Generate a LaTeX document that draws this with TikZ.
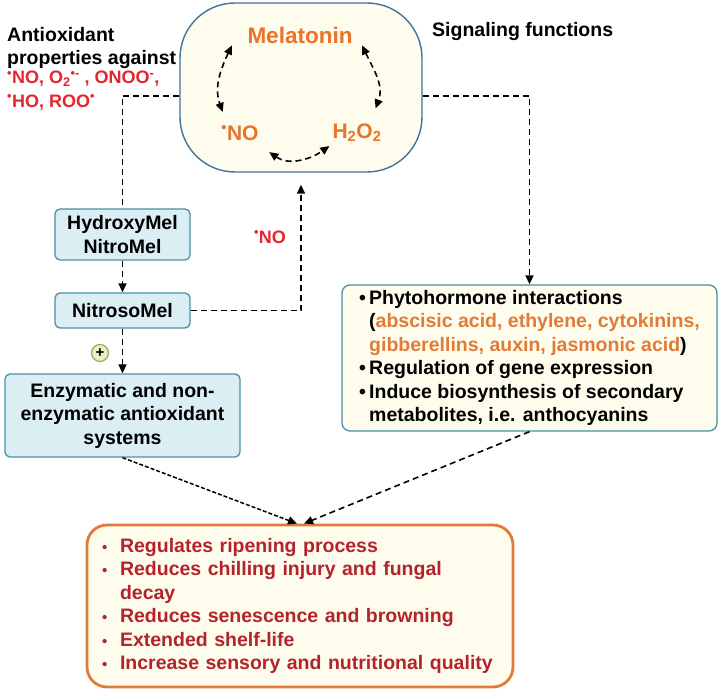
\documentclass[tikz,border=0pt]{standalone}
\usepackage{fontspec}
\setmainfont{Liberation Sans}
\usetikzlibrary{arrows.meta,positioning}

\definecolor{melblue}{HTML}{41719C}
\definecolor{cream}{HTML}{FEFCEC}
\definecolor{boxblue}{HTML}{DBEEF4}
\definecolor{boxteal}{HTML}{4A8FA3}
\definecolor{melorange}{HTML}{E8742A}
\definecolor{radred}{HTML}{E5252E}
\definecolor{resred}{HTML}{B4222E}
\definecolor{resorange}{HTML}{E07B39}
\definecolor{plusgreen}{HTML}{E9F0C4}
\definecolor{plusolive}{HTML}{9BAA5A}

\newcommand{\rad}{\textsuperscript{\textbullet}}
\newcommand{\bodyfont}{\fontsize{19.5}{23.5}\selectfont\bfseries}
\newcommand{\itm}{\makebox[10pt][l]{\textbullet}}
\newcommand{\resitm}{\makebox[18pt][l]{\fontsize{15}{15}\selectfont\textbullet}}

\begin{document}
\begin{tikzpicture}[x=1pt,y=1pt,
    >={Triangle[length=9pt,width=8pt]},
    dline/.style={line width=1.6pt,dash pattern=on 6pt off 4pt},
    fineline/.style={line width=1.5pt,dash pattern=on 4pt off 2pt},
    bluebox/.style={draw=boxteal,fill=boxblue,line width=1.3pt,rounded corners=5pt,align=center,font=\bodyfont},
    coretxt/.style={text=melorange,inner sep=0pt}]
    \useasboundingbox (0,0) rectangle (720,692);

    \node[draw=melblue,fill=cream,line width=1.4pt,rounded corners=55pt,minimum width=242pt,minimum height=169pt] (core) at (301,604.5) {};
    \node[coretxt,font=\fontsize{22.5}{27}\selectfont\bfseries] (mel) at (300,657) {Melatonin};
    \node[coretxt,font=\fontsize{21}{25}\selectfont\bfseries] (no) at (240,559) {\rad NO};
    \node[coretxt,font=\fontsize{21}{25}\selectfont\bfseries] (hoo) at (357,559) {H\textsubscript{2}O\textsubscript{2}};

    \draw[dline,<->] ([shift={(-15.5,-2)}]mel.south west) to[out=-115,in=110] ([shift={(1.5,13.5)}]no.north west);
    \draw[dline,<->] ([shift={(9.5,-2)}]mel.south east) to[out=-65,in=70] ([shift={(-6,15.5)}]hoo.north east);
    \draw[dline,<->] ([shift={(10.5,-11.5)}]no.south east) to[out=-35,in=-145] ([shift={(-3,-4)}]hoo.south west);

    \node[font=\bodyfont,align=left,inner sep=0pt,anchor=north west] (antiox) at (7,665) {Antioxidant\\properties against};
    \node[font=\fontsize{18}{23.5}\selectfont\bfseries,text=radred,align=left,inner sep=0pt,anchor=north west] (radicals) at (7,621)
        {\rad NO, O\textsubscript{2}\textsuperscript{\textbullet-} , ONOO\textsuperscript{-},\\\rad HO, ROO\rad};
    \node[font=\bodyfont,anchor=base west,inner sep=0pt] (signal) at (432,655) {Signaling functions};

    \node[bluebox,minimum width=135pt,minimum height=51pt] (hyd) at (122.5,457.5) {HydroxyMel\\NitroMel};
    \node[bluebox,minimum width=135pt,minimum height=35pt] (nit) at (122.5,381.5) {NitrosoMel};
    \node[bluebox,minimum width=235pt,minimum height=83pt] (enz) at (122.5,276.5) {Enzymatic and non-\\enzymatic antioxidant\\systems};
    \node[circle,draw=plusolive,fill=plusgreen,line width=1.2pt,inner sep=0pt,minimum size=17pt,font=\fontsize{15}{15}\selectfont\bfseries] (plus) at (100,339) {+};
    \node[font=\fontsize{18}{22}\selectfont\bfseries,text=radred] (nolabel) at (270,455) {\rad NO};

    \node[draw=boxteal,fill=cream,line width=1.3pt,rounded corners=8pt,minimum width=375pt,minimum height=146pt,align=left,font=\bodyfont] (phyto) at (529.5,334)
        {\itm Phytohormone interactions\\
         \hspace*{10pt}(\textcolor{resorange}{abscisic acid, ethylene, cytokinins,}\\
         \hspace*{10pt}\textcolor{resorange}{gibberellins, auxin, jasmonic acid})\\
         \itm Regulation of gene expression\\
         \itm Induce biosynthesis of secondary\\
         \hspace*{10pt}metabolites, i.e. anthocyanins};

    \node[draw=resorange,fill=cream,line width=2.8pt,rounded corners=20pt,minimum height=162pt,text width=396pt,inner xsep=15pt,align=left,text=resred,font=\bodyfont] (res) at (300,86)
        {\resitm Regulates ripening process\\
         \resitm Reduces chilling injury and fungal\\
         \hspace*{18pt}decay\\
         \resitm Reduces senescence and browning\\
         \resitm Extended shelf-life\\
         \resitm Increase sensory and nutritional quality};

    \draw[dline] ([yshift=-8.5pt]core.west) -| (hyd.north);
    \draw[dline,->] ([yshift=-8.5pt]core.east) -| (phyto.north);
    \draw[dline,->] (hyd) -- (nit);
    \draw[dline,->] (nit) -- (enz);
    \draw[dline,->,shorten >=12pt] (nit.east) -| (core.south);
    \draw[fineline,->] (enz.south) -- ([xshift=-3pt]res.north);
    \draw[dline,->] (phyto.south) -- ([xshift=4pt]res.north);
\end{tikzpicture}
\end{document}
